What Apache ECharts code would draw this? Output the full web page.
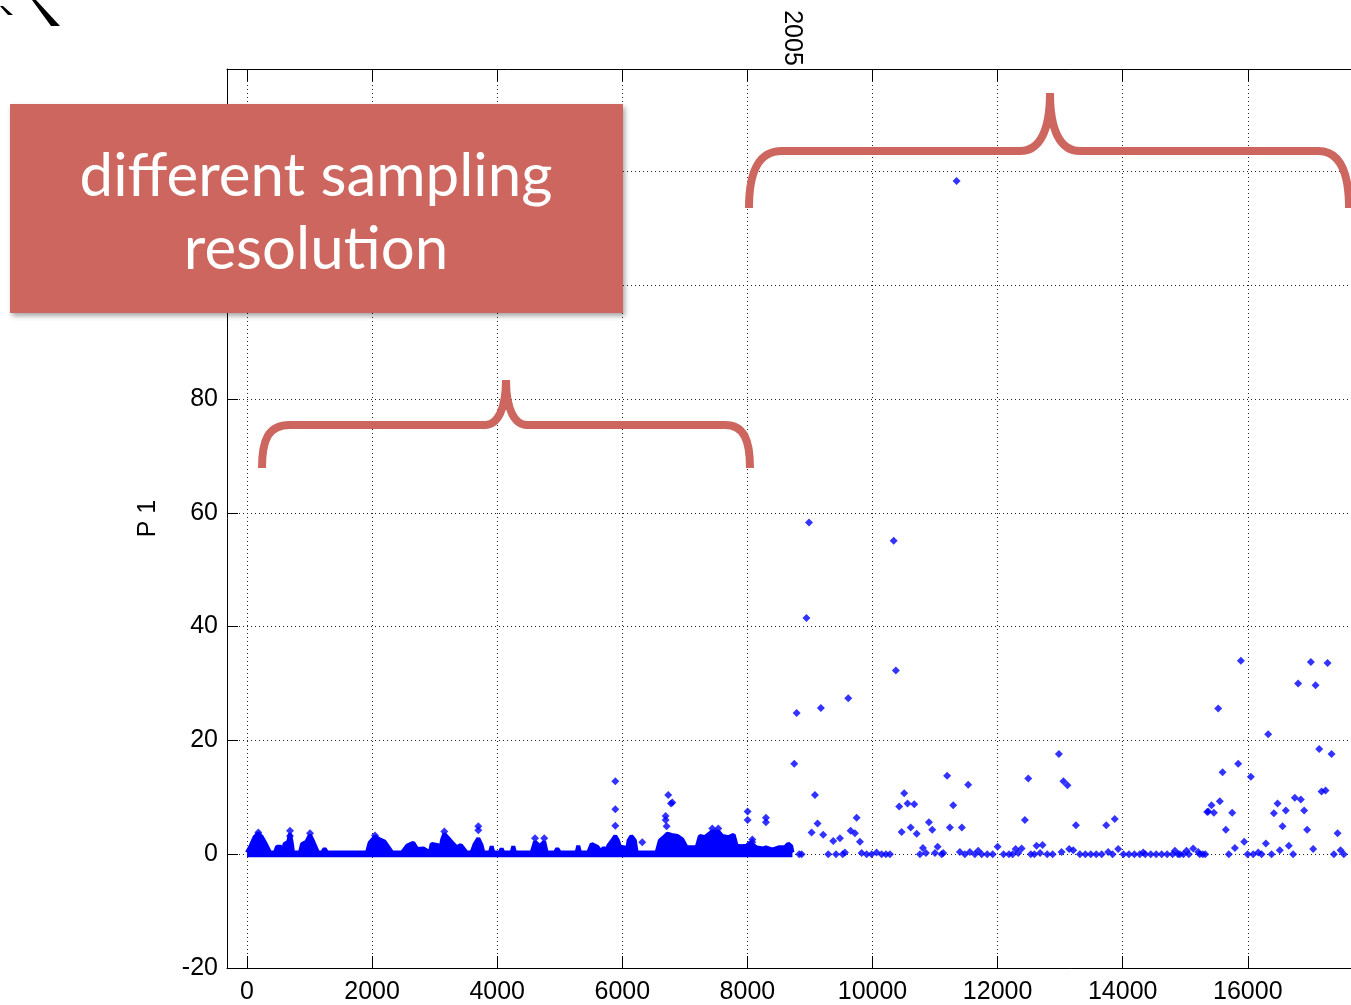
<!DOCTYPE html>
<html><head><meta charset="utf-8">
<script src="https://cdn.jsdelivr.net/npm/echarts@6/dist/echarts.min.js"></script>
<style>html,body{margin:0;padding:0;background:#fff}#c{width:1351px;height:1005px}</style>
</head><body><div id="c"></div><script>
const xTicks = [0, 2000, 4000, 6000, 8000, 10000, 12000, 14000, 16000];
const yTicks = [-20, 0, 20, 40, 60, 80, 100, 120];
const titleText = '2005';
const yName = 'P 1';
const boxLines = ['different sampling', 'resolution'];

// dense first sampling period: constant zero band
const baselineSpan = [[0, 0], [8720, 0]];
// dense first period: envelope of the packed marker hills
const denseEnvelope = [[0,0.3],[60,1.5],[120,3.0],[181,3.7],[240,3.0],[300,1.8],[367,0.3],[447,0.3],[480,1.3],[545,1.3],[575,0.3],[600,1.8],[660,2.2],[687,3.6],[715,2.0],[735,0.3],[847,0.3],[880,1.8],[950,2.2],[1007,3.4],[1060,2.2],[1135,0.3],[1199,0.3],[1240,1.0],[1279,0.3],[1918,0.3],[1960,2.0],[2046,3.1],[2120,2.6],[2200,2.2],[2318,0.3],[2478,0.3],[2560,1.5],[2659,2.0],[2718,0.9],[2820,1.0],[2925,0.3],[2952,1.8],[3058,1.6],[3085,0.5],[3120,2.6],[3154,3.6],[3220,2.8],[3300,1.8],[3352,1.2],[3420,1.6],[3511,0.3],[3591,0.3],[3640,1.8],[3698,2.8],[3750,1.6],[3778,0.3],[3885,0.3],[3911,1.4],[3938,0.3],[4045,0.3],[4070,1.0],[4098,0.3],[4231,0.3],[4257,1.4],[4284,0.3],[4551,0.3],[4604,2.2],[4680,1.4],[4752,2.2],[4790,0.3],[4923,0.3],[4960,1.0],[5003,0.3],[5270,0.3],[5296,1.5],[5323,0.3],[5456,0.3],[5510,1.8],[5600,1.3],[5669,0.3],[5700,1.2],[5749,0.3],[5776,1.5],[5850,2.6],[5888,3.2],[5930,2.4],[5963,1.3],[6043,1.2],[6069,0.3],[6100,2.4],[6145,3.2],[6200,2.4],[6229,0.3],[6362,0.3],[6549,0.3],[6600,2.4],[6665,3.0],[6720,3.6],[6787,3.4],[6880,3.2],[6960,2.6],[7029,1.2],[7100,1.2],[7189,1.2],[7240,3.2],[7320,3.0],[7438,4.0],[7534,4.0],[7600,3.2],[7700,3.0],[7780,3.4],[7828,1.5],[7900,1.4],[7988,1.5],[8040,2.0],[8148,1.2],[8250,1.0],[8296,1.2],[8400,0.8],[8500,1.2],[8600,1.2],[8650,1.8],[8700,1.4],[8720,0.3]];
// isolated markers above the hills in the first period
const denseOutliers = [[181,3.8],[687,4.1],[687,3.2],[1007,3.7],[2046,3.3],[3154,4.0],[3698,4.9],[3698,4.2],[4604,2.8],[4752,2.8],[5888,12.8],[5888,7.9],[5888,5.0],[6319,2.1],[6693,6.7],[6693,6.0],[6709,4.9],[6735,10.4],[6778,8.9],[6799,9.1],[7438,4.5],[7534,4.5],[8004,7.5],[8004,6.0],[8078,2.6],[8078,2.1],[8296,6.4],[8296,5.6],[8669,1.5]];
// sparse second sampling period
const sparseSamples = [[8749,15.9],[8787,24.8],[8828,0],[8867,0],[8944,41.5],[8985,58.3],[9027,3.8],[9080,10.4],[9122,5.4],[9175,25.7],[9212,3.4],[9293,0],[9372,2.3],[9416,0],[9479,2.8],[9523,0],[9559,0.3],[9612,27.4],[9650,4.1],[9719,3.7],[9746,6.4],[9799,2.2],[9826,0.2],[9906,0],[9986,0],[10066,0.3],[10146,0],[10215,0],[10279,0],[10339,55.1],[10374,32.3],[10427,8.4],[10466,3.9],[10507,10.7],[10561,8.9],[10610,4.7],[10667,8.8],[10706,3.6],[10758,0],[10806,1.1],[10854,0.2],[10902,5.6],[10955,4.3],[10998,0.2],[11041,1.3],[11105,0],[11131,0.2],[11193,13.8],[11237,4.7],[11290,8.6],[11344,118.3],[11397,0.4],[11429,4.7],[11477,0],[11530,12.2],[11557,0.4],[11637,0],[11690,0.6],[11746,0],[11834,0],[11921,0],[12000,1.3],[12095,0],[12182,0],[12240,0],[12288,0.9],[12330,0.2],[12384,1.0],[12436,6.0],[12490,13.3],[12531,0],[12589,0],[12623,1.5],[12680,0.2],[12719,1.6],[12793,0],[12880,0],[12980,17.6],[13023,0.4],[13053,12.8],[13117,12.1],[13145,0.9],[13209,0.7],[13252,5.1],[13315,0],[13403,0],[13490,0],[13577,0],[13664,0],[13737,5.1],[13768,0.4],[13838,0],[13873,6.2],[13928,0.9],[14012,0],[14100,0],[14187,0],[14274,0],[14328,0.3],[14361,0],[14448,0],[14535,0],[14623,0],[14710,0],[14797,0],[14835,0.6],[14884,0],[14915,0],[14971,0],[15021,0.6],[15058,0],[15127,1.0],[15207,0.4],[15232,0],[15280,0],[15320,0],[15351,7.4],[15367,7.5],[15420,8.6],[15458,7.3],[15527,25.6],[15553,9.3],[15597,14.4],[15649,4.3],[15697,0],[15750,7.3],[15793,1.1],[15846,15.9],[15889,34.0],[15942,2.2],[15996,0],[16049,13.6],[16086,0],[16166,0.3],[16220,0],[16289,1.9],[16326,21.1],[16380,0],[16417,7.2],[16476,8.9],[16512,0.7],[16555,4.9],[16608,7.7],[16656,1.5],[16725,0],[16752,9.9],[16805,30.0],[16848,9.6],[16901,7.7],[16949,4.3],[17008,33.8],[17045,0.9],[17083,29.7],[17141,18.5],[17179,11.0],[17243,11.2],[17275,33.6],[17339,17.6],[17376,0],[17435,3.7],[17483,0.7],[17535,0]];

const BLUE = '#0000ff';
const RED = '#cd665e';
const FONT = '"Liberation Sans", Arial, sans-serif';
const chart = echarts.init(document.getElementById('c'), null, {renderer: 'canvas'});
const fmt = v => String(v);
const xRange = {min: -320, max: 17650};
const yRange = {min: -20, max: 138};

const braceStyle = {fill: 'none', stroke: RED, lineWidth: 8};
function curve(x1, y1, c1x, c1y, c2x, c2y, x2, y2) {
  return {type: 'bezierCurve', z: 100, shape: {x1: x1, y1: y1, cpx1: c1x, cpy1: c1y, cpx2: c2x, cpy2: c2y, x2: x2, y2: y2}, style: braceStyle};
}
function seg(x1, y1, x2, y2) {
  return {type: 'line', z: 100, shape: {x1: x1, y1: y1, x2: x2, y2: y2}, style: braceStyle};
}

chart.setOption({
  animation: false,
  backgroundColor: '#fff',
  grid: {left: 227, top: 69, right: 0, bottom: 36, show: false},
  xAxis: [{
    type: 'value', position: 'bottom', min: xRange.min, max: xRange.max,
    axisLine: {show: true, onZero: false, lineStyle: {color: '#000', width: 1}},
    axisTick: {show: true, inside: true, length: 12, customValues: xTicks, lineStyle: {color: '#000'}},
    axisLabel: {customValues: xTicks, formatter: fmt, color: '#000', fontSize: 25, fontFamily: FONT, margin: 12},
    splitLine: {show: true, lineStyle: {color: '#222', type: [1, 3], width: 1}}
  }, {
    type: 'value', position: 'top', min: xRange.min, max: xRange.max,
    axisLine: {show: true, onZero: false, lineStyle: {color: '#000', width: 1}},
    axisTick: {show: true, inside: true, length: 12, customValues: xTicks, lineStyle: {color: '#000'}},
    axisLabel: {show: false},
    splitLine: {show: false}
  }],
  yAxis: [{
    type: 'value', min: yRange.min, max: yRange.max,
    name: yName, nameLocation: 'middle', nameGap: 66, nameRotate: 90,
    nameTextStyle: {color: '#000', fontSize: 25, fontFamily: FONT},
    axisLine: {show: true, onZero: false, lineStyle: {color: '#000', width: 1}},
    axisTick: {show: true, inside: true, length: 11, customValues: yTicks, lineStyle: {color: '#000'}},
    axisLabel: {customValues: yTicks, formatter: fmt, color: '#000', fontSize: 25, fontFamily: FONT, margin: 9},
    splitLine: {show: true, lineStyle: {color: '#222', type: [1, 3], width: 1}}
  }],
  series: [
    {type: 'line', data: baselineSpan, symbol: 'none', lineStyle: {color: BLUE, width: 6}, z: 3},
    {type: 'line', data: denseEnvelope, symbol: 'none', smooth: false,
     lineStyle: {color: BLUE, width: 4}, areaStyle: {color: BLUE, opacity: 1}, z: 3},
    {type: 'scatter', data: denseOutliers, symbol: 'diamond', symbolSize: 8, itemStyle: {color: BLUE}, z: 4},
    {type: 'scatter', data: sparseSamples, symbol: 'diamond', symbolSize: 8, itemStyle: {color: BLUE}, z: 4}
  ],
  graphic: [
    {type: 'polygon', z: 100, shape: {points: [[0,6],[3,6],[13,15],[8,15]]}, style: {fill: '#000'}},
    {type: 'polygon', z: 100, shape: {points: [[32,0],[36,0],[60,26],[51,26]]}, style: {fill: '#000'}},
    {type: 'text', z: 100, x: 792, y: 38, rotation: -Math.PI / 2,
     style: {text: titleText, fill: '#000', font: '25px ' + FONT, align: 'center', verticalAlign: 'middle'}},
    {type: 'rect', z: 100, shape: {x: 10, y: 104, width: 613, height: 209},
     style: {fill: RED, shadowBlur: 5, shadowOffsetX: 2, shadowOffsetY: 3, shadowColor: 'rgba(0,0,0,0.35)'}},
    {type: 'text', z: 101, x: 316, y: 177,
     style: {text: boxLines[0], fill: '#fff', font: '60px Lato, "Open Sans", sans-serif', align: 'center', verticalAlign: 'middle'}},
    {type: 'text', z: 101, x: 316, y: 250,
     style: {text: boxLines[1], fill: '#fff', font: '60px Lato, "Open Sans", sans-serif', align: 'center', verticalAlign: 'middle'}},
    // lower brace
    curve(262, 468, 262, 440, 268, 425, 290, 425),
    seg(289, 425, 486, 425),
    curve(485, 425, 497, 425, 506, 410, 506, 380),
    curve(506, 380, 506, 410, 515, 425, 527, 425),
    seg(526, 425, 726, 425),
    curve(725, 425, 744, 425, 750, 440, 750, 468),
    // upper brace
    curve(749, 208, 749, 172, 758, 151, 782, 151),
    seg(781, 151, 1021, 151),
    curve(1020, 151, 1040, 151, 1050, 130, 1050, 93),
    curve(1050, 93, 1050, 130, 1060, 151, 1080, 151),
    seg(1079, 151, 1319, 151),
    curve(1318, 151, 1340, 151, 1349, 172, 1349, 208)
  ]
});
</script></body></html>
